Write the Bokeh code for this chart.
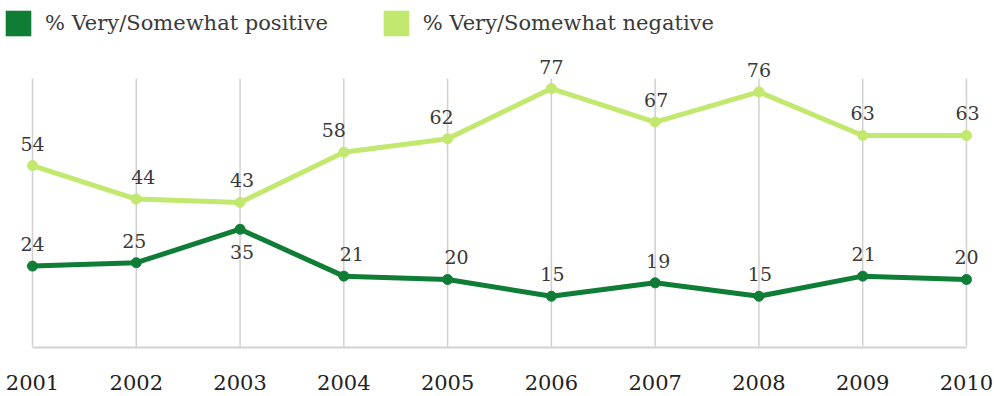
from bokeh.plotting import figure
from bokeh.models import Range1d, FixedTicker, Legend, LegendItem
from bokeh.core.properties import value
from bokeh.embed import file_html
from bokeh.resources import INLINE

years = [2001, 2002, 2003, 2004, 2005, 2006, 2007, 2008, 2009, 2010]
positive = [24, 25, 35, 21, 20, 15, 19, 15, 21, 20]
negative = [54, 44, 43, 58, 62, 77, 67, 76, 63, 63]
series_names = ["% Very/Somewhat positive", "% Very/Somewhat negative"]
colors = ["#0f7d35", "#c2e870"]
grid_top = 80

FONT = "DejaVu Serif"
TEXT_COLOR = "#3a3a3a"

# label placement styling (pixel nudges, below/above)
neg_dx = [0, 7, 2, -10, -6, 0, 1, 0, 0, 1]
pos_dx = [0, -2, 2, 8, 9, 1, 3, 1, 1, 0]
pos_below = [False, False, True, False, False, False, False, False, False, False]
neg_below = [False] * len(years)

p = figure(width=994, height=396, output_backend="svg", toolbar_location=None,
           x_range=Range1d(2000.6917, 2010.27), y_range=Range1d(-0.3, 103.28),
           min_border_left=0, min_border_right=0, min_border_top=0, min_border_bottom=49)
p.outline_line_color = None
p.background_fill_color = "white"
p.border_fill_color = "white"

p.yaxis.visible = False
p.ygrid.visible = False
p.xgrid.visible = False

xa = p.xaxis[0]
xa.ticker = FixedTicker(ticks=years)
xa.bounds = (years[0], years[-1])
xa.axis_line_color = "#d2d2d2"
xa.axis_line_width = 2
xa.major_tick_line_color = None
xa.minor_tick_line_color = None
xa.major_label_standoff = 21
xa.major_label_text_font = FONT
xa.major_label_text_font_size = "21px"
xa.major_label_text_color = "#222222"

# vertical grid lines (stop below the top of the chart)
p.segment(x0=years, y0=[0] * len(years), x1=years, y1=[grid_top] * len(years),
          line_color="#d0d0d0", line_width=1.5)

# lines and markers
for vals, c in [(negative, colors[1]), (positive, colors[0])]:
    p.line(years, vals, line_color=c, line_width=5, line_join="round")
    p.scatter(years, vals, size=10, fill_color=c, line_color=c)

# data labels
for vals, below, dxs in [(negative, neg_below, neg_dx), (positive, pos_below, pos_dx)]:
    for yr, v, b, dx in zip(years, vals, below, dxs):
        p.text([yr], [v], text=[str(v)], text_align="center", text_baseline="middle",
               x_offset=dx, y_offset=23 if b else -22, text_font=value(FONT),
               text_font_size="19px", text_color=TEXT_COLOR)

# legend (zero-area quads serve only as legend swatches)
r1 = p.quad(left=[years[0]], right=[years[0]], top=[0], bottom=[0],
            fill_color=colors[0], line_color=None)
r2 = p.quad(left=[years[0]], right=[years[0]], top=[0], bottom=[0],
            fill_color=colors[1], line_color=None)
legend = Legend(items=[LegendItem(label=series_names[0], renderers=[r1]),
                       LegendItem(label=series_names[1], renderers=[r2])],
                orientation="horizontal", location=(2, 308),
                glyph_width=32, glyph_height=32, label_standoff=11, spacing=52,
                padding=0, margin=0, border_line_color=None, background_fill_alpha=0,
                label_text_font=FONT, label_text_font_size="21px", label_text_color=TEXT_COLOR)
p.add_layout(legend, "center")

open("out.html", "w").write(file_html(p, INLINE))
